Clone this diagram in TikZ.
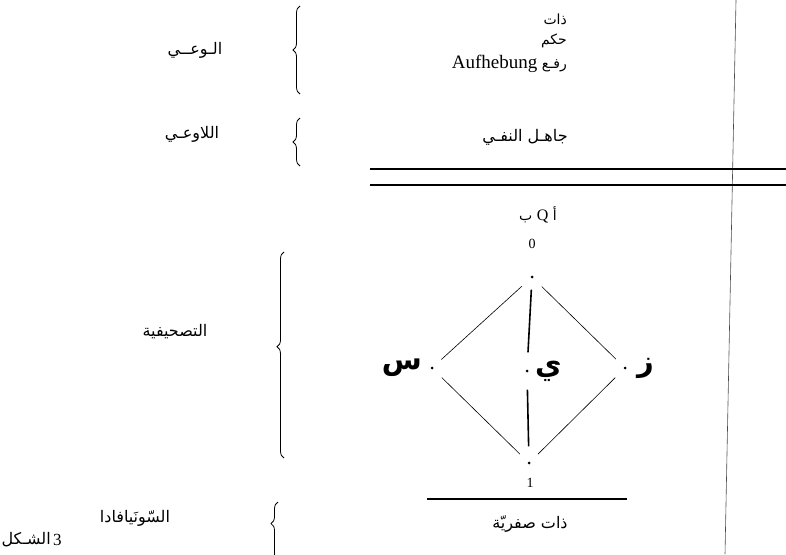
\documentclass[tikz,border=0pt]{standalone}
\usepackage{fontspec}
\setmainfont{Liberation Serif}
\newfontfamily\arabicfont[Script=Arabic]{DejaVu Sans}
\TeXXeTstate=1
\usetikzlibrary{decorations.pathreplacing}

\begin{document}
\begin{tikzpicture}[x=1pt, y=-1pt,
    lbl/.style={font=\arabicfont\fontsize{16}{18}\selectfont, inner sep=1pt},
    small/.style={font=\arabicfont\fontsize{14}{16}\selectfont, inner sep=1pt},
    bigletter/.style={font=\arabicfont\bfseries\fontsize{29}{31}\selectfont, inner sep=0pt},
    num/.style={font=\fontsize{14}{16}\selectfont, inner sep=1pt},
    dot/.style={circle, fill, inner sep=0pt, minimum size=3pt},
    curly/.style={decorate, decoration={brace, amplitude=7pt}, line width=0.8pt},
    edge/.style={line width=0.6pt, shorten <=12pt, shorten >=11pt},
    stem/.style={line width=1.6pt, shorten <=11pt, shorten >=17pt},
    rule/.style={line width=1.3pt}]
    \useasboundingbox (0,0) rectangle (786,554);
    \clip (0,0) rectangle (786,554);

    % right frame line and double rule
    \coordinate (fr1) at (736,0);
    \coordinate (fr2) at (725,554);
    \draw[line width=0.6pt, black!70] (fr1) -- (fr2);
    \coordinate (r1a) at (370,169);
    \coordinate (r1b) at (786,169);
    \coordinate (r2a) at (370,185);
    \coordinate (r2b) at (786,185);
    \draw[rule] (r1a) -- (r1b);
    \draw[rule] (r2a) -- (r2b);

    % braces
    \coordinate (b1t) at (300,6);
    \coordinate (b1b) at (300,94);
    \coordinate (b2t) at (300,118);
    \coordinate (b2b) at (300,166);
    \coordinate (b3t) at (284,252);
    \coordinate (b3b) at (284,458);
    \coordinate (b4t) at (278,502);
    \coordinate (b4b) at (278,600);
    \draw[curly] (b1b) -- (b1t);
    \draw[curly] (b2b) -- (b2t);
    \draw[curly, decoration={aspect=0.54}] (b3b) -- (b3t);
    \draw[curly, decoration={aspect=0.78}] (b4b) -- (b4t);

    % labels left of the braces
    \node[lbl] (wai) at (195,50) {\beginR الـوعــي\endR};
    \node[lbl] (lawai) at (192,134) {\beginR اللاوعـي\endR};
    \node[lbl] (tash) at (175,332) {\beginR التصحيفية\endR};
    \node[lbl] (sun) at (135,518) {\beginR السّونَيافادا\endR};
    \node[lbl, anchor=east] (fig) at (52,540) {\beginR الشـكل\endR};
    \node[num, anchor=west, font=\fontsize{17}{19}\selectfont, inner sep=0pt] (fignum) at ([xshift=1pt]fig.east) {3};

    % upper text block
    \node[small, anchor=east] (dhat) at (568,19) {\beginR ذات\endR};
    \node[small, anchor=east] (hukm) at (568,41) {\beginR حكم\endR};
    \node[small, anchor=east] (raf) at (568,64) {\beginR رفـع \beginL{\rmfamily\fontsize{19}{21}\selectfont Aufhebung}\endL\endR};
    \node[lbl] (jahil) at (525,137) {\beginR جاهـل النفـي\endR};

    % lattice
    \node[small] (ab) at (538,215) {\beginR أ \beginL{\rmfamily\fontsize{16}{18}\selectfont Q}\endL{} ب\endR};
    \node[num] (zero) at (532,244) {0};
    \node[dot] (top) at (532,277) {};
    \node[dot] (sin) at (432,368) {};
    \node[dot] (ya) at (527,371) {};
    \node[dot] (zay) at (625,368) {};
    \node[dot] (bot) at (529,463) {};
    \node[num] (one) at (530,483) {1};
    \node[bigletter, anchor=east] (sinl) at ([xshift=-10pt]sin.center) {\beginR س\endR};
    \node[bigletter, anchor=west] (yal) at ([xshift=8pt]ya.center) {\beginR ي\endR};
    \node[bigletter, anchor=west] (zayl) at ([xshift=12pt]zay.center) {\beginR ز\endR};
    \draw[edge] (top) -- (sin);
    \draw[edge] (sin) -- (bot);
    \draw[edge] (top) -- (zay);
    \draw[edge] (zay) -- (bot);
    \draw[stem] (top) -- (ya);
    \draw[stem, shorten <=17pt, shorten >=15pt] (ya) -- (bot);

    % bottom rule and label
    \coordinate (r3a) at (427,499);
    \coordinate (r3b) at (627,499);
    \draw[rule] (r3a) -- (r3b);
    \node[lbl] (zs) at (530,524) {\beginR ذات صفريّة\endR};
\end{tikzpicture}
\end{document}
